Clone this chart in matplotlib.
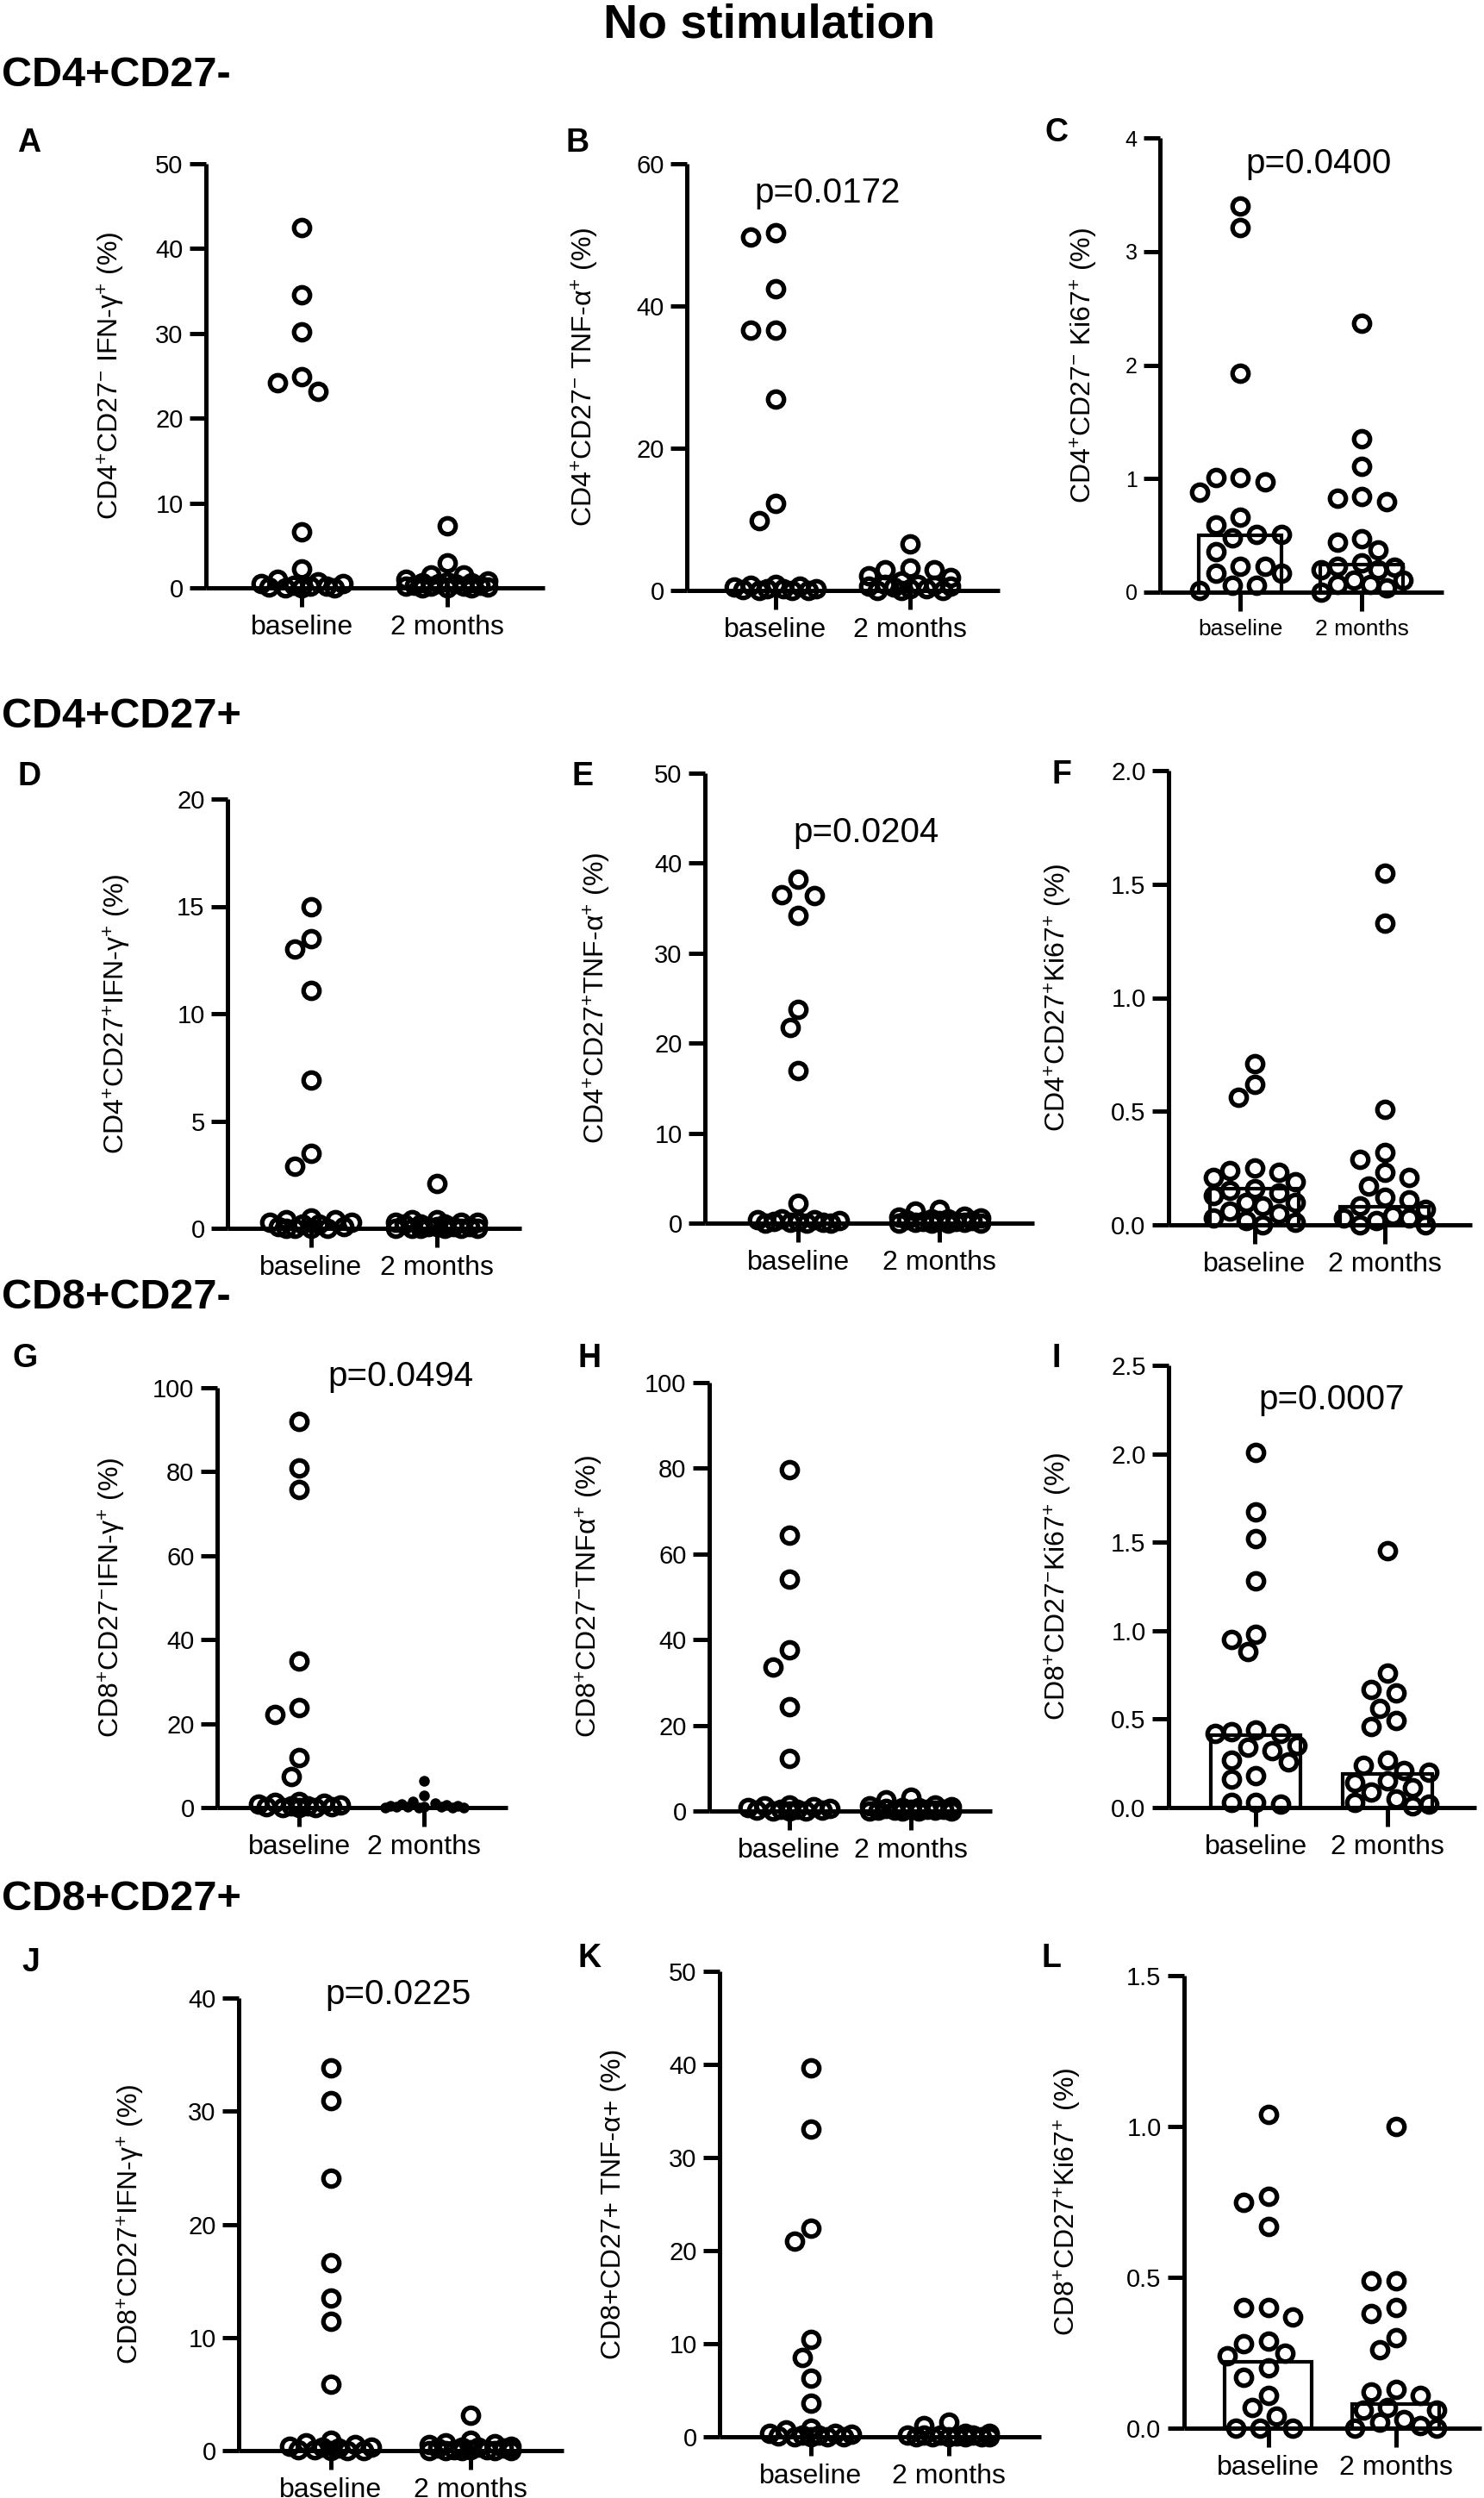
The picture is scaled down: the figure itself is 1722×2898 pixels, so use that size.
import numpy as np
import matplotlib
matplotlib.use('Agg')
import matplotlib.pyplot as plt

plt.rcParams['font.family'] = ['Liberation Sans', 'DejaVu Sans']
plt.rcParams['mathtext.fontset'] = 'custom'
plt.rcParams['mathtext.rm'] = 'Liberation Sans'
plt.rcParams['mathtext.it'] = 'Liberation Sans:italic'
plt.rcParams['mathtext.bf'] = 'Liberation Sans:bold'

W, H = 1722, 2898
groups = ['baseline', '2 months']

# values (% of cells), one list per group
A_base = [42.5, 34.6, 30.2, 24.9, 24.2, 23.2, 6.6, 2.2, 1.0, 0.7, 0.5, 0.5, 0.3, 0.2, 0.2, 0.1, 0.0, 0.0, 0.0]
A_m2 = [7.3, 2.9, 1.5, 1.5, 1.0, 0.8, 0.7, 0.6, 0.6, 0.5, 0.5, 0.3, 0.3, 0.2, 0.2, 0.2, 0.1, 0.0, 0.0, 0.0]
B_base = [50.3, 49.7, 42.4, 36.6, 36.6, 26.9, 12.2, 9.8, 0.9, 0.7, 0.6, 0.5, 0.3, 0.3, 0.3, 0.1, 0.0, 0.0, 0.0]
B_m2 = [6.5, 3.2, 2.9, 2.9, 2.1, 1.8, 1.3, 0.9, 0.9, 0.7, 0.6, 0.6, 0.5, 0.3, 0.3, 0.0, 0.0, 0.0]
C_base = [3.40, 3.21, 1.93, 1.01, 1.01, 0.97, 0.88, 0.66, 0.59, 0.51, 0.51, 0.48, 0.36, 0.23, 0.23, 0.17, 0.17, 0.06, 0.06, 0.015]
C_m2 = [2.37, 1.35, 1.11, 0.84, 0.83, 0.80, 0.47, 0.44, 0.37, 0.26, 0.23, 0.22, 0.20, 0.20, 0.11, 0.11, 0.07, 0.07, 0.04, 0.0]
D_base = [15.0, 13.5, 13.0, 11.1, 6.9, 3.5, 2.9, 0.5, 0.4, 0.4, 0.3, 0.3, 0.2, 0.2, 0.1, 0.1, 0.0, 0.0, 0.0, 0.0]
D_m2 = [2.1, 0.4, 0.4, 0.3, 0.3, 0.3, 0.2, 0.2, 0.2, 0.1, 0.1, 0.1, 0.1, 0.0, 0.0, 0.0, 0.0, 0.0, 0.0]
E_base = [38.2, 36.5, 36.4, 34.2, 23.8, 21.7, 17.0, 2.2, 0.5, 0.4, 0.4, 0.3, 0.2, 0.2, 0.1, 0.1, 0.0, 0.0, 0.0]
E_m2 = [1.5, 1.3, 0.8, 0.7, 0.6, 0.5, 0.5, 0.4, 0.3, 0.3, 0.2, 0.2, 0.1, 0.1, 0.0, 0.0, 0.0, 0.0]
F_base = [0.71, 0.62, 0.56, 0.25, 0.24, 0.23, 0.21, 0.19, 0.16, 0.15, 0.14, 0.13, 0.10, 0.10, 0.085, 0.06, 0.05, 0.03, 0.02, 0.01, 0.0]
F_m2 = [1.55, 1.33, 0.51, 0.32, 0.29, 0.23, 0.21, 0.17, 0.12, 0.11, 0.085, 0.07, 0.04, 0.03, 0.03, 0.02, 0.0, 0.0]
G_base = [91.9, 80.9, 75.8, 34.9, 23.9, 22.1, 11.9, 7.4, 1.5, 1.2, 1.0, 0.8, 0.6, 0.5, 0.4, 0.3, 0.2, 0.1, 0.0, 0.0]
G_m2 = [6.4, 2.8, 1.5, 1.0, 0.8, 0.6, 0.5, 0.4, 0.3, 0.3, 0.2, 0.2, 0.1, 0.1, 0.0, 0.0]
H_base = [79.6, 64.4, 54.1, 37.6, 33.7, 24.3, 12.2, 1.5, 1.2, 1.0, 0.8, 0.6, 0.5, 0.4, 0.3, 0.2, 0.1, 0.0, 0.0]
H_m2 = [3.2, 2.7, 1.5, 1.2, 1.0, 0.9, 0.8, 0.6, 0.5, 0.4, 0.4, 0.3, 0.2, 0.2, 0.1, 0.0, 0.0, 0.0]
I_base = [2.01, 1.67, 1.52, 1.28, 0.98, 0.95, 0.88, 0.44, 0.43, 0.42, 0.42, 0.35, 0.34, 0.32, 0.27, 0.26, 0.18, 0.16, 0.03, 0.03, 0.02]
I_m2 = [1.45, 0.76, 0.67, 0.65, 0.56, 0.49, 0.46, 0.27, 0.24, 0.21, 0.20, 0.15, 0.14, 0.11, 0.09, 0.05, 0.03, 0.02, 0.01]
J_base = [33.8, 30.9, 24.1, 16.6, 13.5, 11.4, 5.9, 0.9, 0.7, 0.5, 0.4, 0.3, 0.3, 0.2, 0.1, 0.1, 0.0, 0.0, 0.0]
J_m2 = [3.1, 0.9, 0.7, 0.6, 0.5, 0.4, 0.3, 0.3, 0.2, 0.2, 0.1, 0.1, 0.1, 0.0, 0.0, 0.0, 0.0, 0.0]
K_base = [39.6, 33.1, 22.4, 21.0, 10.5, 8.5, 6.3, 3.6, 0.9, 0.7, 0.4, 0.4, 0.3, 0.2, 0.2, 0.1, 0.0, 0.0, 0.0, 0.0]
K_m2 = [1.6, 1.2, 0.4, 0.4, 0.2, 0.2, 0.2, 0.2, 0.1, 0.0, 0.0, 0.0, 0.0, 0.0, 0.0]
L_base = [1.04, 0.77, 0.75, 0.67, 0.40, 0.40, 0.37, 0.29, 0.28, 0.25, 0.24, 0.20, 0.17, 0.11, 0.07, 0.04, 0.0, 0.0, 0.0]
L_m2 = [1.0, 0.49, 0.49, 0.40, 0.38, 0.30, 0.26, 0.13, 0.12, 0.11, 0.07, 0.06, 0.06, 0.03, 0.02, 0.01, 0.0, 0.0]

# medians shown as open bars (Ki67 panels)
C_bar = [0.50, 0.24]
F_bar = [0.16, 0.08]
I_bar = [0.41, 0.19]
L_bar = [0.22, 0.08]

ylabels = {
    'A': r'CD4$^{+}$CD27$^{-}$ IFN-γ$^{+}$ (%)',
    'B': r'CD4$^{+}$CD27$^{-}$ TNF-α$^{+}$ (%)',
    'C': r'CD4$^{+}$CD27$^{-}$ Ki67$^{+}$ (%)',
    'D': r'CD4$^{+}$CD27$^{+}$IFN-γ$^{+}$ (%)',
    'E': r'CD4$^{+}$CD27$^{+}$TNF-α$^{+}$ (%)',
    'F': r'CD4$^{+}$CD27$^{+}$Ki67$^{+}$ (%)',
    'G': r'CD8$^{+}$CD27$^{-}$IFN-γ$^{+}$ (%)',
    'H': r'CD8$^{+}$CD27$^{-}$TNFα$^{+}$ (%)',
    'I': r'CD8$^{+}$CD27$^{-}$Ki67$^{+}$ (%)',
    'J': r'CD8$^{+}$CD27$^{+}$IFN-γ$^{+}$ (%)',
    'K': 'CD8+CD27+ TNF-α+ (%)',
    'L': r'CD8$^{+}$CD27$^{+}$Ki67$^{+}$ (%)',
}
pvalues = {'B': 'p=0.0172', 'C': 'p=0.0400', 'E': 'p=0.0204',
           'G': 'p=0.0494', 'I': 'p=0.0007', 'J': 'p=0.0225'}
yticks = {
    'A': [0, 10, 20, 30, 40, 50], 'B': [0, 20, 40, 60], 'C': [0, 1, 2, 3, 4],
    'D': [0, 5, 10, 15, 20], 'E': [0, 10, 20, 30, 40, 50], 'F': [0.0, 0.5, 1.0, 1.5, 2.0],
    'G': [0, 20, 40, 60, 80, 100], 'H': [0, 20, 40, 60, 80, 100], 'I': [0.0, 0.5, 1.0, 1.5, 2.0, 2.5],
    'J': [0, 10, 20, 30, 40], 'K': [0, 10, 20, 30, 40, 50], 'L': [0.0, 0.5, 1.0, 1.5],
}
data = {'A': (A_base, A_m2), 'B': (B_base, B_m2), 'C': (C_base, C_m2),
        'D': (D_base, D_m2), 'E': (E_base, E_m2), 'F': (F_base, F_m2),
        'G': (G_base, G_m2), 'H': (H_base, H_m2), 'I': (I_base, I_m2),
        'J': (J_base, J_m2), 'K': (K_base, K_m2), 'L': (L_base, L_m2)}
bars = {'C': C_bar, 'F': F_bar, 'I': I_bar, 'L': L_bar}

# panel frames in pixels: left, right, y of top tick, y of zero
frames = {
    'A': (239, 632, 190, 682), 'B': (797, 1160, 190, 685), 'C': (1346, 1675, 160, 687),
    'D': (264, 605, 927, 1425), 'E': (818, 1200, 897, 1419), 'F': (1356, 1708, 894, 1421),
    'G': (252, 589, 1610, 2097), 'H': (823, 1151, 1604, 2101), 'I': (1356, 1713, 1584, 2097),
    'J': (277, 654, 2318, 2843), 'K': (835, 1208, 2287, 2827), 'L': (1374, 1719, 2292, 2817),
}
letter_pos = {'A': (34, 166), 'B': (670, 166), 'C': (1226, 154),
              'D': (34, 901), 'E': (676, 901), 'F': (1232, 899),
              'G': (29, 1576), 'H': (684, 1576), 'I': (1226, 1576),
              'J': (36, 2277), 'K': (684, 2272), 'L': (1220, 2272)}
# p-value text: centre x, baseline y
p_pos = {'B': (960, 235), 'C': (1530, 201), 'E': (1005, 977),
         'G': (465, 1608), 'I': (1545, 1635), 'J': (462, 2325)}
label_gap = {'A': 92, 'B': 100, 'C': 70, 'D': 110, 'E': 107, 'F': 110,
             'G': 104, 'H': 121, 'I': 110, 'J': 107, 'K': 108, 'L': 117}
headers = [('CD4+CD27-', 87), ('CD4+CD27+', 832), ('CD8+CD27-', 1505), ('CD8+CD27+', 2203)]

XLIM = (-0.66, 1.67)
MS, MEW = 13.3, 3.8
DIAM = (MS + MEW) * 100 / 72


def swarm(vals, center, xs, ys, diam, kmax=5, frac=0.4):
    # spread close values sideways like a column scatter plot
    step = diam * frac
    cands = [0]
    for k in range(1, kmax + 1):
        cands += [-k, k]
    vals = np.asarray(vals, float)
    order = np.argsort(-vals, kind='stable')
    placed = []
    out = np.zeros(len(vals))
    for i in order:
        yp = vals[i] * ys
        best_k, best_d = 0, -1.0
        for k in cands:
            xp = k * step
            d = min([np.hypot(xp - a, yp - b) for a, b in placed], default=1e9)
            if d >= diam * 0.95:
                best_k = k
                break
            if d > best_d:
                best_d, best_k = d, k
        placed.append((best_k * step, yp))
        out[i] = center + best_k * step / xs
    return out


fig = plt.figure(figsize=(W / 100, H / 100), dpi=100)

fig.text(893 / W, 1 - 44 / H, 'No stimulation', ha='center', va='baseline',
         fontsize=40, fontweight='bold')
for txt, yy in headers:
    fig.text(2 / W, 1 - yy / H, txt, ha='left', va='center', fontsize=35, fontweight='bold')

for key in 'ABCDEFGHIJKL':
    l, r, t, b = frames[key]
    ax = fig.add_axes([l / W, 1 - b / H, (r - l) / W, (b - t) / H])
    ticks = yticks[key]
    ax.set_xlim(*XLIM)
    ax.set_ylim(0, ticks[-1])
    xs = (r - l) / (XLIM[1] - XLIM[0])
    ys = (b - t) / ticks[-1]

    if key in bars:
        ax.bar([0, 1], bars[key], width=0.68, fill=False, edgecolor='black',
               linewidth=3.0, zorder=2, clip_on=False)

    base, m2 = data[key]
    xb = swarm(base, 0, xs, ys, DIAM)
    ax.plot(xb, base, 'o', ms=MS, mfc='none', mec='black', mew=MEW,
            clip_on=False, zorder=3)
    if key == 'G':
        xm = swarm(m2, 1, xs, ys, 13, kmax=7, frac=0.5)
        ax.plot(xm, m2, 'o', ms=9, mfc='black', mec='black', mew=0,
                clip_on=False, zorder=3)
    else:
        xm = swarm(m2, 1, xs, ys, DIAM)
        ax.plot(xm, m2, 'o', ms=MS, mfc='none', mec='black', mew=MEW,
                clip_on=False, zorder=3)

    for s in ['top', 'right']:
        ax.spines[s].set_visible(False)
    for s in ['left', 'bottom']:
        ax.spines[s].set_linewidth(3.6)
        ax.spines[s].set_capstyle('butt')
    ax.set_yticks(ticks)
    if isinstance(ticks[1], float):
        ax.set_yticklabels(['%.1f' % v for v in ticks])
    ax.set_xticks([0, 1])
    ax.set_xticklabels(groups, fontsize=19 if key == 'C' else 23)
    ax.tick_params(axis='y', direction='out', length=14, width=3.6, pad=5,
                   labelsize=18 if key == 'C' else 21)
    ax.tick_params(axis='x', direction='out', length=16, width=3.6, pad=6)
    ax.set_ylabel(ylabels[key], fontsize=23)
    ax.yaxis.set_label_coords(-label_gap[key] / (r - l), 0.5)

    lx, ly = letter_pos[key]
    fig.text(lx / W, 1 - ly / H, key, ha='center', va='center', fontsize=27, fontweight='bold')
    if key in pvalues:
        px, py = p_pos[key]
        fig.text(px / W, 1 - py / H, pvalues[key], ha='center', va='baseline', fontsize=29)

fig.savefig('out.png', dpi=100)
